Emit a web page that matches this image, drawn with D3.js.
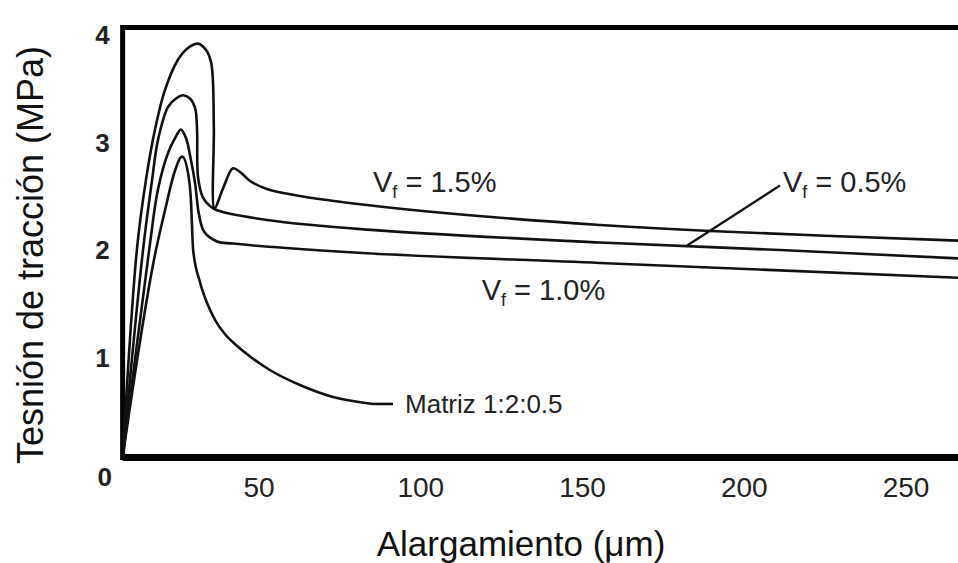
<!DOCTYPE html>
<html>
<head>
<meta charset="utf-8">
<script src="https://cdn.jsdelivr.net/npm/d3@7"></script>
<style>
body{margin:0;background:#fff;}
svg{display:block;font-family:"Liberation Sans",Arial,Helvetica,sans-serif;}
</style>
</head>
<body>
<svg id="chart" width="958" height="563"></svg>
<script>
// curves: [alargamiento (um), tension (MPa)]
const vf15 = [[8,0],[12.4,1.93],[15.2,2.58],[18.0,3.05],[21.1,3.42],[25.1,3.70],[28.2,3.81],[31.3,3.85],
  [33.8,3.79],[35.3,3.68],[35.9,3.51],[36.2,3.05],[36.4,2.32],[39.0,2.50],[42.1,2.69],[44.3,2.656],
  [47.4,2.572],[52.6,2.498],[62.8,2.433],[83.5,2.349],[114.4,2.256],[155.6,2.163],[189.6,2.107],[268,2.015]];
const vf05 = [[8,0],[14.3,1.93],[17.1,2.58],[18.9,2.95],[22.0,3.26],[24.5,3.34],[26.7,3.37],[28.8,3.34],
  [30.4,3.25],[31.0,3.05],[31.3,2.61],[32.8,2.42],[35.0,2.34],[37.2,2.30],[52.6,2.21],[83.5,2.12],
  [155.6,2.00],[211.2,1.93],[268,1.85]];
const vf10 = [[8,0],[16.2,1.93],[18.9,2.49],[22.0,2.83],[24.2,2.97],[26.0,3.05],[27.6,2.97],[29.1,2.77],
  [30.4,2.55],[31.6,2.26],[33.2,2.10],[37.2,2.01],[42.1,1.99],[83.5,1.90],[155.6,1.81],[268,1.67]];
const matriz = [[8,0],[18.3,1.93],[21.1,2.30],[24.2,2.67],[26.4,2.80],[28.2,2.65],[29.1,2.40],[29.8,1.93],
  [31.9,1.633],[34.1,1.437],[36.6,1.279],[39.6,1.149],[43.4,1.037],[48.0,0.926],
  [53.5,0.814],[62.8,0.674],[73.0,0.563],[85.4,0.498]];

const xTicks = [50,100,150,200,250];
const yTicks = [1,2,3,4];
const xStart = 8;     // frame starts here
const xEnd = 270;

// labels: [text before sub, sub, text after, x, y]
const labels = [
  ["V","f"," = 1.5%",85.4,2.47],
  ["V","f"," = 0.5%",212.1,2.47],
  ["V","f"," = 1.0%",119,1.465]
];
const leader05 = [[211.2,2.53],[182.4,1.97]];
const matrizLabel = {text:"Matriz 1:2:0.5", x:95.3, y:0.414, leadTo:91.6};

const svg = d3.select("#chart");
const x = d3.scaleLinear().domain([0,250]).range([96.75,905.5]);
const y = d3.scaleLinear().domain([0,4]).range([457.5,27.5]);

const line = d3.line()
  .x(d => x(d[0]))
  .y(d => y(d[1]))
  .curve(d3.curveCatmullRom.alpha(0.5));
const smooth = d3.line()
  .x(d => x(d[0]))
  .y(d => y(d[1]))
  .curve(d3.curveMonotoneX);

// frame (left, top, bottom)
svg.append("path")
  .attr("d", `M${x(xEnd)},${y(4)}H${x(xStart)}V${y(0)}H${x(xEnd)}`)
  .attr("fill","none")
  .attr("stroke","#000")
  .attr("stroke-width",5)
  .attr("stroke-linejoin","miter");
svg.append("line")
  .attr("x1",x(xStart)).attr("x2",x(xEnd))
  .attr("y1",y(0)).attr("y2",y(0))
  .attr("stroke","#000").attr("stroke-width",7);

[vf15, vf05, vf10].forEach(s => {
  svg.append("path")
    .datum(s)
    .attr("d", line)
    .attr("fill","none")
    .attr("stroke","#111")
    .attr("stroke-width",2.6);
});
svg.append("path")
  .datum(matriz)
  .attr("d", smooth)
  .attr("fill","none")
  .attr("stroke","#111")
  .attr("stroke-width",2.6);

// axes
const gx = svg.append("g")
  .attr("transform",`translate(0,${y(0)})`)
  .call(d3.axisBottom(x).tickValues(xTicks).tickSize(0).tickPadding(20));
gx.select(".domain").remove();
gx.selectAll("text").attr("font-size",28).attr("fill","#222").attr("font-family",null);

const gy = svg.append("g")
  .attr("transform",`translate(${x(xStart)},0)`)
  .call(d3.axisLeft(y).tickValues(yTicks).tickFormat(d3.format("d")).tickSize(0).tickPadding(13));
gy.select(".domain").remove();
gy.selectAll("text").attr("font-size",26).attr("font-weight","bold").attr("fill","#222")
  .attr("font-family",null).attr("y",8);

// origin label
svg.append("text")
  .attr("x", x(xStart) - 18)
  .attr("y", y(0) + 20)
  .attr("dy","0.32em")
  .attr("text-anchor","middle")
  .attr("font-size",26).attr("font-weight","bold").attr("fill","#222")
  .text("0");

// axis titles
svg.append("text")
  .attr("x", 521).attr("y", 556)
  .attr("text-anchor","middle")
  .attr("font-size",35).attr("fill","#111")
  .text("Alargamiento (\u03bcm)");
svg.append("text")
  .attr("transform","translate(43,255) rotate(-90)")
  .attr("text-anchor","middle")
  .attr("font-size",36).attr("fill","#111")
  .text("Tesnión de tracción (MPa)");

// series labels
labels.forEach(l => {
  const t = svg.append("text")
    .attr("x", x(l[3])).attr("y", y(l[4]))
    .attr("font-size",29).attr("fill","#222");
  t.append("tspan").text(l[0]);
  t.append("tspan").attr("font-size",18).attr("dy",6).text(l[1]);
  t.append("tspan").attr("dy",-6).text(l[2]);
});

svg.append("path")
  .datum(leader05)
  .attr("d", d3.line().x(d => x(d[0])).y(d => y(d[1])))
  .attr("stroke","#111").attr("stroke-width",2.4);

const mEnd = matriz[matriz.length-1];
svg.append("line")
  .attr("x1",x(mEnd[0])).attr("y1",y(mEnd[1]))
  .attr("x2",x(matrizLabel.leadTo)).attr("y2",y(mEnd[1]))
  .attr("stroke","#111").attr("stroke-width",2.6);
svg.append("text")
  .attr("x", x(matrizLabel.x)).attr("y", y(matrizLabel.y))
  .attr("font-size",26).attr("fill","#222")
  .text(matrizLabel.text);
</script>
</body>
</html>
